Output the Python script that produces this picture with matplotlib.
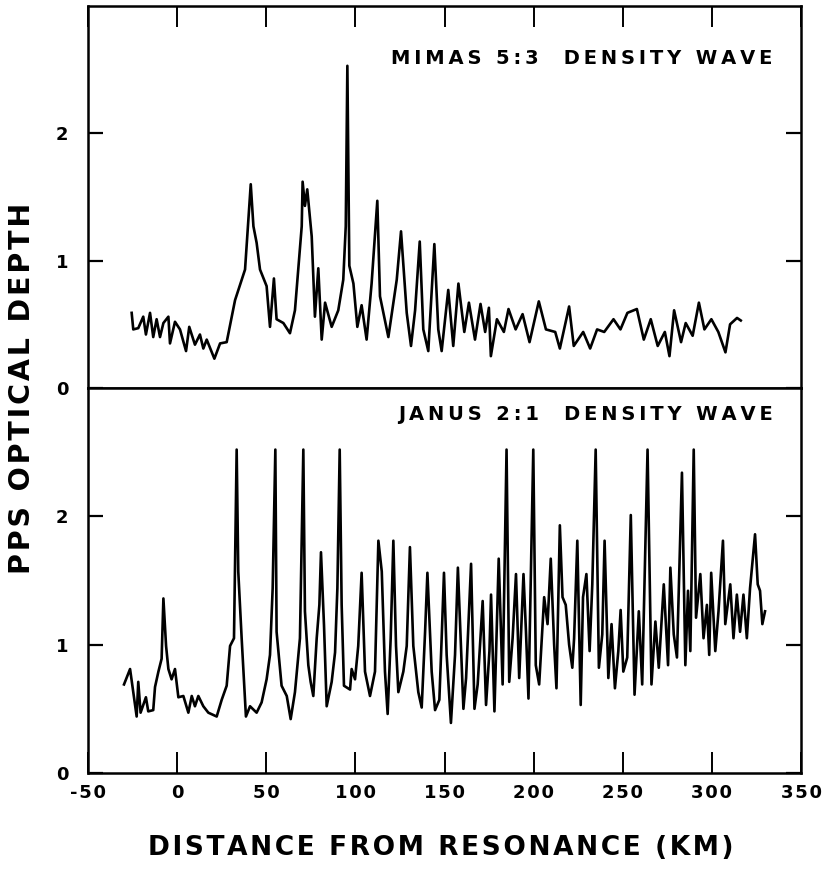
import numpy as np
import matplotlib
matplotlib.use("Agg")
import matplotlib.pyplot as plt

# optical depth traces (km from resonance, tau)
mimas_km = [-25.5, -24.6, -21.8, -19.0, -17.5, -15.2, -13.4, -11.5, -9.6, -7.7, -4.9, -4.0,
            -1.2, 1.6, 5.0, 6.8, 10.0, 12.8, 14.7, 16.6, 20.9, 24.1, 27.8, 32.5, 38.1, 41.3,
            42.8, 44.6, 46.5, 50.2, 52.1, 54.3, 55.8, 59.6, 63.3, 66.1, 69.9, 70.4, 71.7, 73.0,
            75.5, 77.3, 79.2, 81.1, 83.0, 86.7, 90.4, 93.2, 94.6, 95.5, 96.6, 98.9, 101.1, 103.5,
            106.3, 109.1, 112.3, 113.8, 118.5, 123.2, 125.6, 128.8, 131.2, 133.5, 136.1, 138.1,
            140.9, 144.3, 146.5, 148.4, 152.1, 154.9, 157.8, 161.1, 163.7, 167.1, 170.2, 172.8,
            174.9, 176.0, 179.4, 183.3, 185.9, 189.9, 193.8, 197.7, 202.9, 206.9, 212.1, 214.7,
            219.9, 222.5, 227.8, 231.7, 235.6, 239.6, 244.8, 248.7, 252.6, 257.9, 261.8, 265.7,
            269.6, 273.6, 276.2, 278.8, 282.7, 285.3, 289.2, 292.7, 295.8, 299.7, 303.6, 307.6,
            310.2, 314.1, 316.2]
mimas_tau = [0.59, 0.46, 0.47, 0.56, 0.42, 0.59, 0.40, 0.54, 0.40, 0.51, 0.56, 0.35,
             0.52, 0.46, 0.29, 0.48, 0.34, 0.42, 0.31, 0.38, 0.23, 0.35, 0.36, 0.69, 0.93, 1.60,
             1.27, 1.14, 0.93, 0.80, 0.48, 0.86, 0.54, 0.51, 0.43, 0.61, 1.27, 1.62, 1.43, 1.56,
             1.19, 0.56, 0.94, 0.38, 0.67, 0.48, 0.61, 0.85, 1.27, 2.53, 0.96, 0.82, 0.48, 0.65,
             0.38, 0.82, 1.47, 0.72, 0.40, 0.85, 1.23, 0.59, 0.33, 0.61, 1.15, 0.46,
             0.29, 1.13, 0.46, 0.29, 0.77, 0.33, 0.82, 0.44, 0.67, 0.38, 0.66, 0.44,
             0.63, 0.25, 0.54, 0.44, 0.62, 0.46, 0.58, 0.36, 0.68, 0.46, 0.44, 0.31,
             0.64, 0.33, 0.44, 0.31, 0.46, 0.44, 0.54, 0.46, 0.59, 0.62, 0.38, 0.54,
             0.33, 0.44, 0.25, 0.61, 0.36, 0.51, 0.41, 0.67, 0.46, 0.54, 0.44, 0.28,
             0.50, 0.55, 0.53]

janus_km = [-29.8, -26.4, -24.6, -22.7, -21.8, -20.5, -17.5, -16.2, -13.4, -12.4, -10.5, -8.7,
            -7.7, -6.2, -4.9, -3.1, -1.2, 0.7, 3.5, 6.3, 8.2, 10.0, 11.9, 14.7, 17.5, 22.2,
            25.0, 27.8, 29.7, 31.9, 33.4, 34.3, 36.2, 38.6, 40.9, 44.6, 47.4, 50.2, 52.1, 53.6,
            55.1, 55.8, 58.6, 61.5, 63.7, 66.1, 68.9, 70.8, 71.7, 73.6, 74.9, 76.4, 78.3, 79.8,
            80.7, 82.4, 83.9, 86.7, 88.6, 89.9, 91.2, 92.3, 93.6, 97.0, 97.9, 99.8, 101.6, 103.5,
            105.4, 108.2, 111.0, 112.9, 114.8, 116.6, 118.1, 119.8, 121.3, 122.8, 124.1, 126.9,
            128.8, 130.6, 132.5, 135.3, 137.2, 139.1, 140.4, 142.8, 144.7, 147.1, 148.4, 149.7,
            151.2, 153.6, 155.9, 157.5, 160.6, 162.1, 164.9, 166.8, 168.6, 171.4, 173.3, 175.2,
            176.1, 178.0, 180.4, 182.6, 184.8, 186.3, 188.2, 190.1, 191.9, 194.3, 195.7, 197.1,
            199.8, 201.2, 203.1, 205.9, 207.8, 209.6, 211.5, 212.8, 214.7, 216.2, 218.0, 219.9,
            221.7, 222.7, 224.5, 226.4, 227.7, 229.6, 231.4, 232.9, 234.8, 236.6, 238.5, 239.8,
            241.9, 243.7, 245.6, 247.5, 248.8, 250.3, 252.5, 254.5, 256.6, 259.0, 260.9, 263.9,
            266.1, 268.3, 270.2, 273.0, 275.4, 276.7, 278.6, 280.4, 283.2, 285.1, 286.6, 287.9,
            289.8, 291.1, 293.5, 295.3, 297.2, 298.5, 299.6, 301.9, 303.7, 306.2, 307.5, 310.3,
            312.1, 314.0, 315.8, 317.7, 319.6, 321.4, 324.2, 325.7, 327.0, 328.3, 329.8]
janus_tau = [0.69, 0.81, 0.63, 0.44, 0.71, 0.47, 0.59, 0.48, 0.49, 0.67, 0.79, 0.89,
             1.36, 0.99, 0.81, 0.73, 0.81, 0.59, 0.60, 0.47, 0.60, 0.52, 0.60, 0.52, 0.47, 0.44,
             0.57, 0.68, 0.99, 1.05, 2.52, 1.57, 1.05, 0.44, 0.52, 0.47, 0.55, 0.73, 0.92, 1.44,
             2.52, 1.10, 0.68, 0.60, 0.42, 0.63, 1.05, 2.52, 1.26, 0.84, 0.71, 0.60, 1.05, 1.31,
             1.72, 1.15, 0.52, 0.71, 0.94, 1.44, 2.52, 1.31, 0.68, 0.65, 0.81, 0.73, 0.99, 1.56,
             0.79, 0.60, 0.79, 1.81, 1.57, 0.79, 0.46, 1.05, 1.81, 0.99, 0.63, 0.79,
             0.99, 1.76, 0.99, 0.63, 0.51, 1.10, 1.56, 0.79, 0.49, 0.57, 1.05, 1.56,
             0.92, 0.39, 0.92, 1.60, 0.50, 0.74, 1.63, 0.50, 0.69, 1.34, 0.53, 0.95,
             1.39, 0.48, 1.67, 0.69, 2.52, 0.71, 1.05, 1.55, 0.74, 1.55, 1.10, 0.58,
             2.52, 0.84, 0.69, 1.37, 1.16, 1.67, 1.00, 0.66, 1.93, 1.37, 1.31, 1.00,
             0.82, 1.05, 1.81, 0.53, 1.37, 1.55, 0.95, 1.47, 2.52, 0.82, 1.08, 1.81,
             0.74, 1.16, 0.66, 0.95, 1.27, 0.79, 0.90, 2.01, 0.61, 1.26, 0.69, 2.52,
             0.69, 1.18, 0.82, 1.47, 0.84, 1.60, 1.08, 0.90, 2.34, 0.84, 1.42, 0.95,
             2.52, 1.21, 1.55, 1.05, 1.31, 0.92, 1.56, 0.95, 1.26, 1.81, 1.16, 1.47,
             1.05, 1.39, 1.10, 1.39, 1.05, 1.44, 1.86, 1.47, 1.42, 1.16, 1.26]

x_ticks = [-50, 0, 50, 100, 150, 200, 250, 300, 350]
x_tick_labels = ['-50', '0', '50', '100', '150', '200', '250', '300', '350']
y_ticks = [0, 1, 2]


def spaced(s, gap='\u200a'):
    # old stencil-style lettering: put a small space between characters
    return gap.join(s)


plt.rcParams['font.family'] = ['DejaVu Sans']
plt.rcParams['font.weight'] = 'bold'

fig = plt.figure(figsize=(8.27, 8.77), dpi=100)
ax_top = fig.add_axes([0.1064, 0.5576, 0.8622, 0.4356])
ax_bot = fig.add_axes([0.1064, 0.1186, 0.8622, 0.4390])

for ax in (ax_top, ax_bot):
    ax.set_xlim(-50, 350)
    ax.set_ylim(0, 3)
    for sp in ax.spines.values():
        sp.set_linewidth(1.8)
    ax.set_yticks(y_ticks)
    ax.set_yticklabels([spaced(str(v)) for v in y_ticks], fontsize=13, fontweight='bold')
    ax.tick_params(axis='y', direction='in', left=True, right=True, length=11, width=1.6, pad=14)
    ax.set_xticks(x_ticks)

ax_top.tick_params(axis='x', direction='in', top=True, bottom=False, labelbottom=False,
                   length=15, width=1.4)
ax_bot.tick_params(axis='x', direction='in', top=False, bottom=True, length=15, width=1.4, pad=8)
ax_bot.set_xticklabels([spaced(t) for t in x_tick_labels], fontsize=13, fontweight='bold')

ax_top.plot(mimas_km, mimas_tau, color='black', lw=1.9)
ax_bot.plot(janus_km, janus_tau, color='black', lw=1.9)

ax_top.text(0.96, 0.862, spaced('MIMAS 5:3  DENSITY WAVE', '\u2009'), transform=ax_top.transAxes,
            ha='right', va='center', fontsize=14, fontweight='bold')
ax_bot.text(0.96, 0.93, spaced('JANUS 2:1  DENSITY WAVE', '\u2009'), transform=ax_bot.transAxes,
            ha='right', va='center', fontsize=14, fontweight='bold')

fig.text(0.027, 0.557, spaced('PPS OPTICAL DEPTH'), rotation=90, ha='center', va='center',
         fontsize=20.5, fontweight='bold')
fig.text(0.533, 0.033, spaced('DISTANCE FROM RESONANCE (KM)'), ha='center', va='center',
         fontsize=19, fontweight='bold')

fig.savefig('out.png', dpi=100)
